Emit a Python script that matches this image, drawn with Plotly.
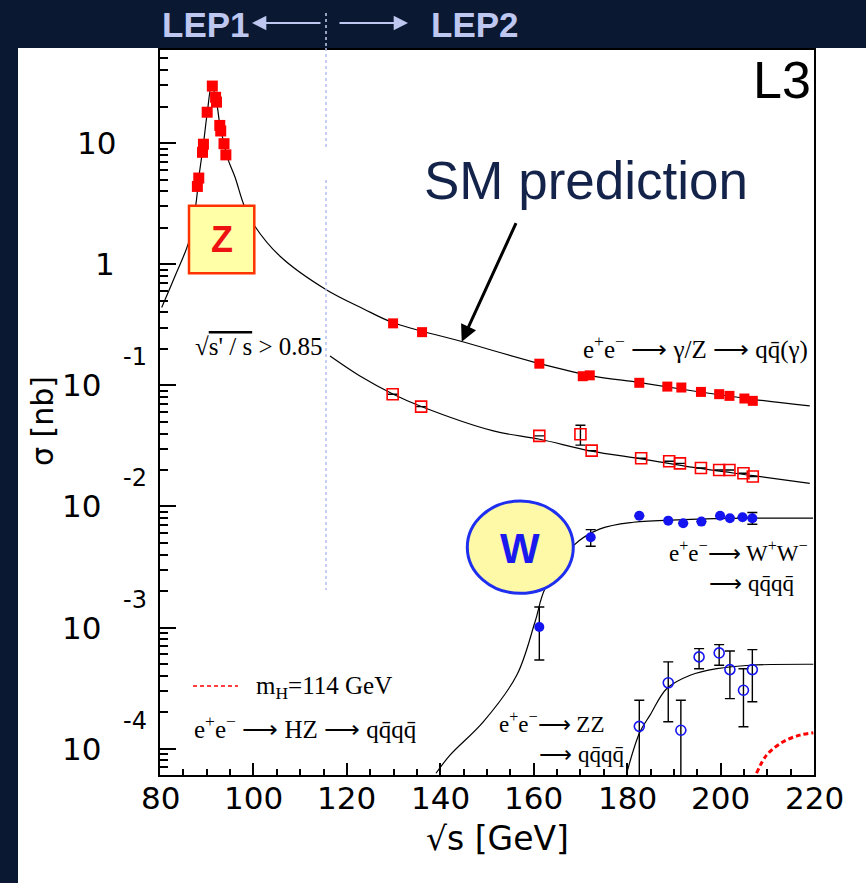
import math
import plotly.graph_objects as go

# ---------------- data ----------------
# LEP1 Z-peak hadronic cross section [nb]
x_lep1 = [88.0, 88.3, 89.1, 89.3, 90.1, 91.2, 91.9, 92.1, 92.8, 93.0, 93.7, 94.1]
sig_lep1 = [4.39, 5.15, 8.4, 9.8, 18.0, 29.6, 23.9, 21.8, 14.0, 12.6, 9.9, 8.0]

# LEP2 inclusive e+e- -> qq(gamma)
x_had = [129.9, 136.1, 161.2, 170.5, 172.0, 182.6, 188.6, 191.6, 195.8, 199.7, 201.9, 205.1, 206.9]
sig_had = [0.325, 0.275, 0.151, 0.119, 0.121, 0.105, 0.0977, 0.096, 0.0883, 0.0846, 0.0819, 0.0779, 0.0745]

# LEP2 sqrt(s'/s) > 0.85
x_cut = [129.8, 135.9, 161.2, 170.0, 172.4, 183.0, 189.0, 191.3, 195.8, 199.7, 201.9, 204.9, 206.9]
sig_cut = [0.0845, 0.0668, 0.0383, 0.0395, 0.0289, 0.0250, 0.0236, 0.0227, 0.0208, 0.0200, 0.0200, 0.0188, 0.0177]
cut_err_up = [0, 0, 0, 0.0074, 0, 0, 0, 0, 0, 0, 0, 0, 0]
cut_err_dn = [0, 0, 0, 0.0074, 0, 0, 0, 0, 0, 0, 0, 0, 0]

# W+W- -> qqqq
x_ww = [161.2, 172.2, 182.6, 188.8, 192.0, 195.9, 199.9, 202.0, 204.7, 206.8]
sig_ww = [0.00101, 0.00557, 0.00839, 0.00764, 0.00727, 0.00750, 0.00839, 0.00799, 0.00815, 0.0080]
ww_err_up = [0.00047, 0.00087, 0, 0, 0, 0, 0, 0, 0, 0.00093]
ww_err_dn = [0.00047, 0.00087, 0, 0, 0, 0, 0, 0, 0, 0.00086]

# ZZ -> qqqq
x_zz = [182.6, 188.8, 191.5, 195.4, 199.7, 202.0, 204.9, 206.8]
sig_zz = [0.000153, 0.000350, 0.000142, 0.000573, 0.000618, 0.000450, 0.000304, 0.000450]
zz_hi = [0.000251, 0.000521, 0.000251, 0.000670, 0.000723, 0.000641, 0.000458, 0.000658]
zz_lo = [0.00001, 0.000167, 0.00001, 0.000458, 0.000489, 0.000259, 0.000152, 0.000244]

# SM prediction curves
x_sm_had = [80.36, 83.2, 86.2, 87.65, 88.3, 89.27, 90.13, 91.06, 92.1, 92.84, 93.7, 94.6, 96.05,
            98.0, 100.2, 105.7, 115.5, 123.5, 129.94, 144.2, 161.3, 172.75, 182.75, 194.2, 207.0, 219.1]
sig_sm_had = [0.4395, 0.796, 1.545, 3.06, 5.15, 9.68, 17.99, 30.2, 21.8, 13.96, 9.93, 7.28, 5.25,
              3.06, 2.09, 1.164, 0.619, 0.4295, 0.3289, 0.2323, 0.1514, 0.1194, 0.1054, 0.0899, 0.0767, 0.0676]
x_sm_cut = [116.4, 122.8, 129.94, 135.66, 151.35, 161.3, 172.05, 183.46, 194.16, 207.0, 219.1]
sig_sm_cut = [0.1746, 0.1194, 0.0845, 0.0676, 0.0421, 0.0359, 0.0288, 0.0246, 0.0210, 0.01795, 0.01552]
x_sm_ww = [139.08, 142.08, 149.2, 156.36, 160.27, 162.4, 168.5, 174.2, 181.3, 192.0, 206.3, 219.8]
sig_sm_ww = [6.27e-5, 8.85e-5, 1.667e-4, 4.04e-4, 1.112e-3, 2.089e-3, 4.75e-3, 6.53e-3, 7.41e-3, 7.78e-3, 8.00e-3, 8.00e-3]
x_sm_zz = [179.9, 182.75, 184.9, 188.5, 193.5, 199.2, 206.3, 219.85]
sig_sm_zz = [6.27e-5, 1.380e-4, 1.892e-4, 3.14e-4, 4.04e-4, 4.58e-4, 4.89e-4, 4.98e-4]
x_sm_hz = [207.7, 209.85, 213.4, 216.97, 219.85]
sig_sm_hz = [6.27e-5, 8.85e-5, 1.143e-4, 1.294e-4, 1.355e-4]

# axis ticks / labels
x_tick_vals = [80, 100, 120, 140, 160, 180, 200, 220]
x_tick_text = ["80", "100", "120", "140", "160", "180", "200", "220"]
y_decades = [1e1, 1e0, 1e-1, 1e-2, 1e-3, 1e-4]
y_base_text = ["10", "1", "10", "10", "10", "10"]
y_exp_text = ["", "", "-1", "-2", "-3", "-4"]

# ---------------- layout helpers ----------------
W, H = 866, 883
L, R, T, B = 160, 52, 50, 108
PW, PH = W - L - R, H - T - B


def PX(px):
    return (px - L) / PW


def PY(py):
    return (H - B - py) / PH


NAVY = "#0b1832"
LAV = "#bec7ef"
RED = "#ff0000"
BLUE = "#1414f0"
SERIF = "Liberation Serif"
SANS = "DejaVu Sans"
ARR = "\u27f6"
NB = "\u00a0"

fig = go.Figure()

line_style = dict(color="black", width=1.2, shape="spline", smoothing=1.0)
for xs, ys in [(x_sm_had, sig_sm_had), (x_sm_cut, sig_sm_cut), (x_sm_ww, sig_sm_ww), (x_sm_zz, sig_sm_zz)]:
    fig.add_trace(go.Scatter(x=xs, y=ys, mode="lines", line=line_style, hoverinfo="skip", showlegend=False))
fig.add_trace(go.Scatter(x=x_sm_hz, y=sig_sm_hz, mode="lines",
                         line=dict(color=RED, width=3, dash="5px,3px", shape="spline"),
                         showlegend=False))

errstyle = dict(color="black", thickness=1.4, width=5)
fig.add_trace(go.Scatter(x=x_lep1, y=sig_lep1, mode="markers",
                         marker=dict(symbol="square", size=11, color=RED), showlegend=False))
fig.add_trace(go.Scatter(x=x_had, y=sig_had, mode="markers",
                         marker=dict(symbol="square", size=10, color=RED), showlegend=False))
fig.add_trace(go.Scatter(x=x_cut, y=sig_cut, mode="markers",
                         error_y=dict(type="data", array=cut_err_up, arrayminus=cut_err_dn, **errstyle),
                         marker=dict(symbol="square-open", size=11, color=RED, line=dict(width=1.6)),
                         showlegend=False))
fig.add_trace(go.Scatter(x=x_ww, y=sig_ww, mode="markers",
                         error_y=dict(type="data", array=ww_err_up, arrayminus=ww_err_dn, **errstyle),
                         marker=dict(symbol="circle", size=10, color=BLUE), showlegend=False))
fig.add_trace(go.Scatter(x=x_zz, y=sig_zz, mode="markers",
                         error_y=dict(type="data",
                                      array=[h - v for h, v in zip(zz_hi, sig_zz)],
                                      arrayminus=[v - l for v, l in zip(sig_zz, zz_lo)], **errstyle),
                         marker=dict(symbol="circle-open", size=10, color=BLUE, line=dict(width=1.6)),
                         showlegend=False))

shapes = []
# white panel
shapes.append(dict(type="rect", xref="paper", yref="paper", layer="below",
                   x0=PX(18), x1=PX(870), y0=PY(48), y1=PY(890),
                   fillcolor="white", line=dict(width=0)))
# LEP1/LEP2 dotted separator
for y0, y1, col in [(13, 48, "#c9d0f2"), (48, 150, "#b4bef0"), (180, 590, "#b4bef0")]:
    shapes.append(dict(type="line", xref="paper", yref="paper", layer="above",
                       x0=PX(326), x1=PX(326), y0=PY(y0), y1=PY(y1),
                       line=dict(color=col, width=1.5, dash="dot")))
# Z box
shapes.append(dict(type="rect", xref="paper", yref="paper", layer="above",
                   x0=PX(189), x1=PX(254.3), y0=PY(273.3), y1=PY(205.7),
                   fillcolor="#ffffa8", line=dict(color="#ff3300", width=2.5)))
# W ellipse
shapes.append(dict(type="circle", xref="paper", yref="paper", layer="above",
                   x0=PX(467.3), x1=PX(573.3), y0=PY(593.3), y1=PY(501),
                   fillcolor="#fdf9a6", line=dict(color="#1f2ff0", width=3)))
# legend dashed line for Higgs
shapes.append(dict(type="line", xref="paper", yref="paper", layer="above",
                   x0=PX(193), x1=PX(238), y0=PY(686), y1=PY(686),
                   line=dict(color=RED, width=1.5, dash="4px,3px")))

ann = []
# y tick labels
for v, b, e in zip(y_decades, y_base_text, y_exp_text):
    lv = math.log10(v)
    right = 118 if v == 1e1 else (117 if v == 1 else 103)
    ann.append(dict(x=PX(right), y=lv, xref="paper", yref="y", text=b, showarrow=False,
                    xanchor="right", yanchor="middle", font=dict(family=SANS, size=31, color="black")))
    if e:
        ann.append(dict(x=PX(121), y=lv, yshift=28, xref="paper", yref="y", text=e, showarrow=False,
                        xanchor="left", yanchor="middle", font=dict(family=SANS, size=24, color="black")))
# x tick labels
for v, t in zip(x_tick_vals, x_tick_text):
    ann.append(dict(x=v, y=PY(798), xref="x", yref="paper", text=t, showarrow=False,
                    xanchor="center", yanchor="middle", font=dict(family=SANS, size=31, color="black")))
# axis titles
ann.append(dict(x=PX(497), y=PY(838), xref="paper", yref="paper", text="√s [GeV]", showarrow=False,
                xanchor="center", yanchor="middle", font=dict(family=SANS, size=33, color="black")))
ann.append(dict(x=PX(43), y=PY(421), xref="paper", yref="paper", text="σ [nb]", showarrow=False,
                textangle=-90, xanchor="center", yanchor="middle",
                font=dict(family=SANS, size=30, color="black")))

# header band
ann.append(dict(x=PX(206), y=PY(24), xref="paper", yref="paper", text="<b>LEP1</b>", showarrow=False,
                xanchor="center", yanchor="middle", font=dict(family="Liberation Sans", size=35, color=LAV)))
ann.append(dict(x=PX(475), y=PY(24), xref="paper", yref="paper", text="<b>LEP2</b>", showarrow=False,
                xanchor="center", yanchor="middle", font=dict(family="Liberation Sans", size=35, color=LAV)))
ann.append(dict(x=PX(252), y=PY(23), xref="paper", yref="paper", text="", showarrow=True,
                ax=70, ay=0, arrowhead=2, arrowsize=1.3, arrowwidth=2.2, arrowcolor=LAV))
ann.append(dict(x=PX(408), y=PY(23), xref="paper", yref="paper", text="", showarrow=True,
                ax=-70, ay=0, arrowhead=2, arrowsize=1.3, arrowwidth=2.2, arrowcolor=LAV))

# L3
ann.append(dict(x=PX(813), y=PY(80), xref="paper", yref="paper", text="L3", showarrow=False,
                xanchor="right", yanchor="middle", font=dict(family="Liberation Sans", size=52, color="black")))
# SM prediction
ann.append(dict(x=PX(586), y=PY(181), xref="paper", yref="paper", text="SM prediction", showarrow=False,
                xanchor="center", yanchor="middle", font=dict(family="Liberation Sans", size=53, color="#14234a")))
ann.append(dict(x=PX(461.7), y=PY(341.7), xref="paper", yref="paper", text="", showarrow=True,
                ax=55, ay=-120, arrowhead=2, arrowsize=1.1, arrowwidth=3, arrowcolor="black"))
# Z and W labels
ann.append(dict(x=PX(221.7), y=PY(240), xref="paper", yref="paper", text="<b>Z</b>", showarrow=False,
                xanchor="center", yanchor="middle", font=dict(family="Liberation Sans", size=36, color="#ee1111")))
ann.append(dict(x=PX(520), y=PY(548), xref="paper", yref="paper", text="<b>W</b>", showarrow=False,
                xanchor="center", yanchor="middle", font=dict(family="Liberation Sans", size=42, color="#1a1aee")))

qb = "q\u0304"
serif = dict(family=SERIF, size=25, color="black")
serif2 = dict(family=SERIF, size=23, color="black")
ann.append(dict(x=PX(193), y=PY(346), xref="paper", yref="paper",
                text="√<span style='text-decoration:overline'>s' / s</span> > 0.85", showarrow=False,
                xanchor="left", yanchor="middle", font=serif))
ann.append(dict(x=PX(810), y=PY(347), xref="paper", yref="paper",
                text="e<sup>+</sup>e<sup>−</sup> " + ARR + " γ/Z " + ARR + " q" + qb + "(γ)", showarrow=False,
                xanchor="right", yanchor="middle", font=serif))
ann.append(dict(x=PX(668), y=PY(566), xref="paper", yref="paper",
                text="e<sup>+</sup>e<sup>−</sup>" + ARR + " W<sup>+</sup>W<sup>−</sup><br>" + NB * 7
                     + ARR + " q" + qb + "q" + qb,
                showarrow=False, align="left",
                xanchor="left", yanchor="middle", font=serif2, borderpad=0))
ann.append(dict(x=PX(498), y=PY(737), xref="paper", yref="paper",
                text="e<sup>+</sup>e<sup>−</sup>" + ARR + " ZZ<br>" + NB * 7 + ARR + " q" + qb + "q" + qb,
                showarrow=False, align="left",
                xanchor="left", yanchor="middle", font=serif2, borderpad=0))
ann.append(dict(x=PX(255), y=PY(687), xref="paper", yref="paper",
                text="m<sub>H</sub>=114 GeV", showarrow=False,
                xanchor="left", yanchor="middle", font=serif, borderpad=0))
ann.append(dict(x=PX(193), y=PY(727), xref="paper", yref="paper",
                text="e<sup>+</sup>e<sup>−</sup> " + ARR + " HZ " + ARR + " q" + qb + "q" + qb, showarrow=False,
                xanchor="left", yanchor="middle", font=serif, borderpad=0))

x_minor = [v for v in range(85, 220, 5) if v % 20 != 0]
y_minor = [m * d for d in [1e-5, 1e-4, 1e-3, 1e-2, 1e-1, 1e0, 1e1] for m in range(2, 10)]

fig.update_layout(
    width=W, height=H,
    margin=dict(l=L, r=R, t=T, b=B),
    paper_bgcolor=NAVY, plot_bgcolor="white",
    shapes=shapes, annotations=ann, showlegend=False,
    xaxis=dict(range=[80, 220], tickmode="array", tickvals=x_tick_vals, showticklabels=False,
               ticks="inside", ticklen=12, tickwidth=1.5, tickcolor="black",
               minor=dict(tickmode="array", tickvals=x_minor, ticks="inside", ticklen=6,
                          tickwidth=1.5, tickcolor="black", showgrid=False),
               showline=True, linecolor="black", linewidth=2, mirror=True,
               showgrid=False, zeroline=False),
    yaxis=dict(type="log", range=[-4.217, 1.769], tickmode="array", tickvals=y_decades,
               showticklabels=False, ticks="inside", ticklen=16, tickwidth=1.5, tickcolor="black",
               minor=dict(tickmode="array", tickvals=y_minor, ticks="inside", ticklen=8,
                          tickwidth=1.5, tickcolor="black", showgrid=False),
               showline=True, linecolor="black", linewidth=2, mirror=True,
               showgrid=False, zeroline=False),
)

fig.write_html("out.html")
